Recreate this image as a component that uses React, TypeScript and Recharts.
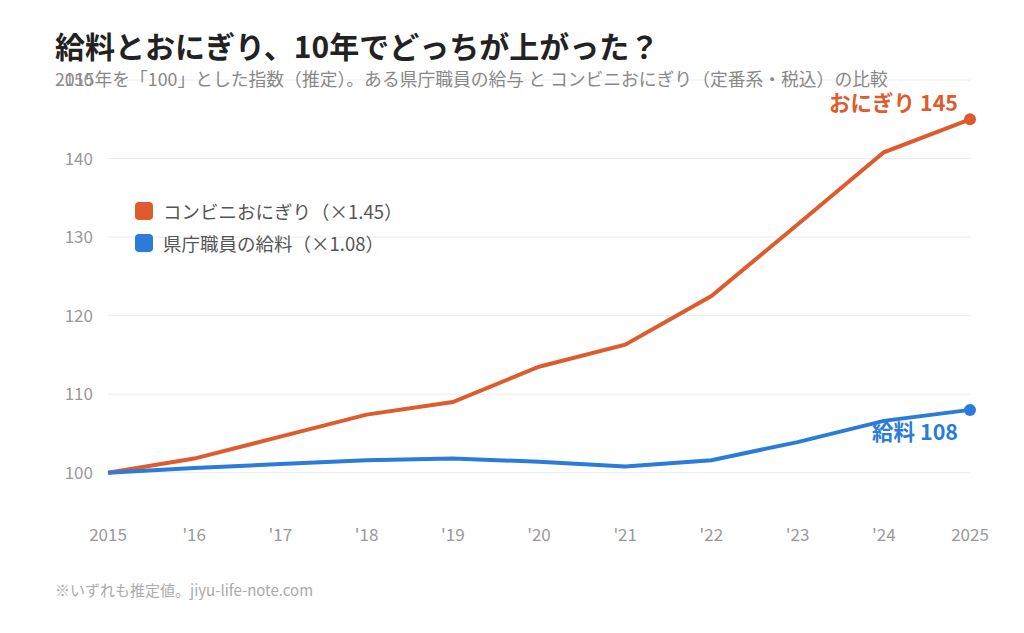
import { LineChart, Line, XAxis, YAxis, CartesianGrid } from 'recharts';

const years = ['2015', "'16", "'17", "'18", "'19", "'20", "'21", "'22", "'23", "'24", '2025'];
const onigiri = [100, 101.8, 104.6, 107.4, 109.0, 113.5, 116.3, 122.5, 131.6, 140.8, 145];
const salary = [100, 100.6, 101.1, 101.6, 101.8, 101.4, 100.8, 101.6, 103.9, 106.6, 108];
const yTicks = [100, 110, 120, 130, 140, 150];

const ORANGE = '#DE5B2E';
const BLUE = '#2B7BD9';
const FONT = '"Noto Sans CJK JP", "Noto Sans", sans-serif';

const data = years.map((year, i) => ({ year, onigiri: onigiri[i], salary: salary[i] }));
const last = years.length - 1;

// only the final point gets a dot
const endDot = (color: string) => (props: any) => {
  if (props.index !== last) return <g key={props.index} />;
  return <circle key={props.index} cx={props.cx} cy={props.cy} r={6} fill={color} />;
};

const endLabel = (text: string, color: string, dy: number) => (props: any) => {
  if (props.index !== last) return <g key={props.index} />;
  return (
    <text
      key={props.index}
      x={props.x - 12}
      y={props.y + dy}
      textAnchor="end"
      dominantBaseline="central"
      fill={color}
      fontSize={21.5}
      fontWeight={700}
      fontFamily={FONT}
    >
      {text}
    </text>
  );
};

export default function App() {
  return (
    <div style={{ position: 'absolute', left: 0, top: 0, width: 1024, height: 633, background: '#fff', fontFamily: FONT }}>
      <LineChart width={1024} height={633} data={data} margin={{ top: 80, right: 54, left: 48, bottom: 91 }}>
        <CartesianGrid vertical={false} horizontalValues={yTicks} stroke="#ececec" strokeWidth={1} />
        <XAxis
          dataKey="year"
          axisLine={false}
          tickLine={false}
          tickMargin={11}
          interval={0}
          tick={{ fill: '#999', fontSize: 17, fontFamily: FONT }}
        />
        <YAxis
          domain={[95, 150]}
          ticks={yTicks}
          width={60}
          axisLine={false}
          tickLine={false}
          tickMargin={9}
          tick={{ fill: '#999', fontSize: 17, fontFamily: FONT }}
        />
        <Line
          dataKey="onigiri"
          stroke={ORANGE}
          strokeWidth={4}
          dot={endDot(ORANGE)}
          activeDot={false}
          label={endLabel('おにぎり 145', ORANGE, -18)}
          isAnimationActive={false}
        />
        <Line
          dataKey="salary"
          stroke={BLUE}
          strokeWidth={4}
          dot={endDot(BLUE)}
          activeDot={false}
          label={endLabel('給料 108', BLUE, 21)}
          isAnimationActive={false}
        />
      </LineChart>

      <div style={{ position: 'absolute', left: 55, top: 25, fontSize: 30, fontWeight: 700, color: '#222', whiteSpace: 'nowrap', lineHeight: '40px' }}>
        給料とおにぎり、10年でどっちが上がった？
      </div>
      <div style={{ position: 'absolute', left: 55, top: 66, fontSize: 17.8, color: '#888', whiteSpace: 'nowrap', lineHeight: '24px' }}>
        2015年を「100」とした指数（推定）。ある県庁職員の給与 と コンビニおにぎり（定番系・税込）の比較
      </div>

      <div style={{ position: 'absolute', left: 135, top: 195, fontSize: 18.5, color: '#555', lineHeight: '24px' }}>
        {[
          { name: 'コンビニおにぎり（×1.45）', color: ORANGE },
          { name: '県庁職員の給料（×1.08）', color: BLUE },
        ].map((item) => (
          <div key={item.name} style={{ display: 'flex', alignItems: 'center', height: 32, whiteSpace: 'nowrap' }}>
            <span style={{ width: 18, height: 18, borderRadius: 4, background: item.color, marginRight: 10 }} />
            {item.name}
          </div>
        ))}
      </div>

      <div style={{ position: 'absolute', left: 55, top: 579, fontSize: 15, color: '#aaa', whiteSpace: 'nowrap', lineHeight: '22px' }}>
        ※いずれも推定値。jiyu-life-note.com
      </div>
    </div>
  );
}
